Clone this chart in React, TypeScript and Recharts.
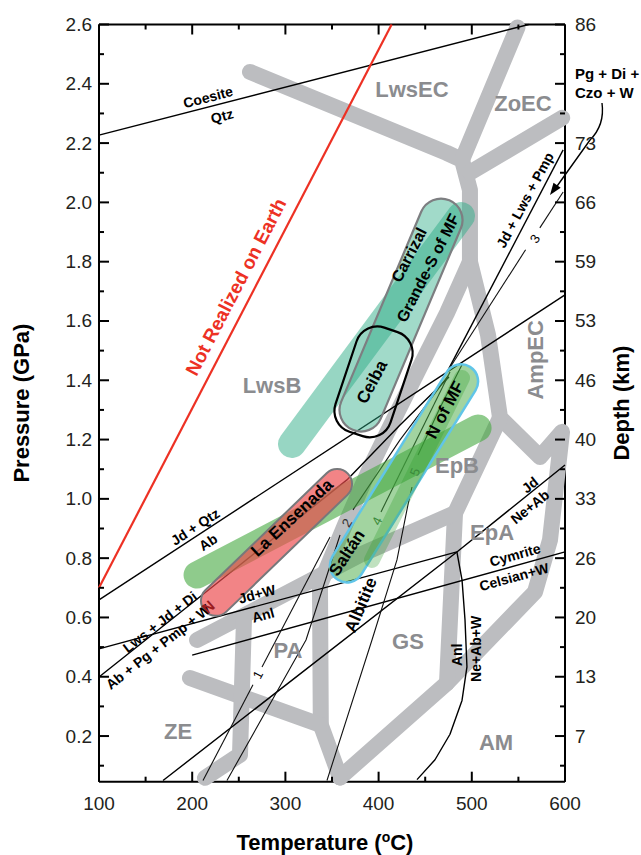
import React from 'react';
import { ComposedChart, XAxis, YAxis, Scatter, Label } from 'recharts';

type Pt = { t: number; p: number };
type Lbl = { t: number; p: number; text: string; angle?: number };

const FONT = '"Liberation Sans", Arial, Helvetica, sans-serif';

// ---------- axes ----------
const tempTicks = [100, 150, 200, 250, 300, 350, 400, 450, 500, 550, 600];
const pressTicks = [0.1, 0.2, 0.3, 0.4, 0.5, 0.6, 0.7, 0.8, 0.9, 1.0, 1.1, 1.2, 1.3, 1.4, 1.5, 1.6, 1.7, 1.8, 1.9, 2.0, 2.1, 2.2, 2.3, 2.4, 2.5, 2.6];
const depthTickP = [0.2, 0.4, 0.6, 0.8, 1.0, 1.2, 1.4, 1.6, 1.8, 2.0, 2.2, 2.4, 2.6];
const depthTickLabels = ['7', '13', '20', '26', '33', '40', '46', '53', '59', '66', '73', '', '86'];
const frameCorners: Pt[] = [{ t: 100, p: 0.046 }, { t: 600, p: 2.6 }];

// ---------- facies boundaries (thick grey) ----------
const fLwsECLwsB: Pt[] = [{ t: 262, p: 2.44 }, { t: 473, p: 2.167 }, { t: 489.5, p: 2.143 }, { t: 498, p: 2.042 }, { t: 498, p: 1.8 }];
const fLwsECZoEC: Pt[] = [{ t: 549, p: 2.59 }, { t: 489.5, p: 2.143 }];
const fZoECAmpEC: Pt[] = [{ t: 597, p: 2.285 }, { t: 498, p: 2.1 }];
const fAmpEC: Pt[] = [{ t: 498, p: 1.8 }, { t: 517.4, p: 1.553 }, { t: 530.3, p: 1.274 }, { t: 573.2, p: 1.141 }, { t: 596.8, p: 1.226 }, { t: 583.9, p: 0.861 }, { t: 567.8, p: 0.686 }, { t: 473.4, p: 0.379 }, { t: 358.6, p: 0.06 }];
const fEpAEpB: Pt[] = [{ t: 530.3, p: 1.274 }, { t: 482, p: 0.952 }, { t: 473.4, p: 0.379 }];
const fLwsBEpB: Pt[] = [{ t: 498, p: 1.8 }, { t: 473.4, p: 1.627 }, { t: 444.4, p: 1.445 }, { t: 409, p: 1.222 }, { t: 390.8, p: 1.104 }, { t: 363.9, p: 0.912 }, { t: 337.1, p: 0.71 }, { t: 338, p: 0.237 }, { t: 358.6, p: 0.06 }];
const fEpBBase: Pt[] = [{ t: 205.2, p: 0.524 }, { t: 380, p: 0.811 }, { t: 482, p: 0.952 }];
const fZEPA: Pt[] = [{ t: 197.6, p: 0.396 }, { t: 338, p: 0.237 }];
const fPAWest: Pt[] = [{ t: 255.6, p: 0.6 }, { t: 251.3, p: 0.137 }, { t: 213.7, p: 0.059 }];

// ---------- reaction lines ----------
const notRealized: Pt[] = [{ t: 100, p: 0.7 }, { t: 414, p: 2.6 }];
const coesiteQtz: Pt[] = [{ t: 100, p: 2.227 }, { t: 561, p: 2.6 }];
const jdQtzAb: Pt[] = [{ t: 100, p: 0.659 }, { t: 600, p: 1.688 }];
const lwsJdDi: Pt[] = [{ t: 100, p: 0.399 }, { t: 208, p: 0.669 }, { t: 366, p: 1.064 }, { t: 423, p: 1.249 }, { t: 475.5, p: 1.411 }];
const jdLwsPmp: Pt[] = [{ t: 598, p: 2.177 }, { t: 473, p: 1.425 }];
const rxn3a: Pt[] = [{ t: 598, p: 2.035 }, { t: 573, p: 1.914 }];
const rxn3b: Pt[] = [{ t: 557.7, p: 1.84 }, { t: 477, p: 1.445 }];
const rxn1a: Pt[] = [{ t: 211.6, p: 0.05 }, { t: 265.2, p: 0.373 }];
const rxn1b: Pt[] = [{ t: 274.9, p: 0.433 }, { t: 347.9, p: 0.871 }];
const rxn2a: Pt[] = [{ t: 237.3, p: 0.05 }, { t: 322.1, p: 0.524 }, { t: 358.6, p: 0.878 }];
const rxn2b: Pt[] = [{ t: 372.5, p: 0.963 }, { t: 423, p: 1.199 }, { t: 474.5, p: 1.415 }];
const rxn4: Pt[] = [{ t: 402.6, p: 0.956 }, { t: 476.6, p: 1.428 }];
const rxn5a: Pt[] = [{ t: 344.6, p: 0.05 }, { t: 392.9, p: 0.524 }, { t: 419.7, p: 0.794 }, { t: 431.5, p: 0.98 }, { t: 435.8, p: 1.04 }];
const rxn5b: Pt[] = [{ t: 442.3, p: 1.148 }, { t: 465.9, p: 1.307 }, { t: 489.5, p: 1.452 }];
const jdNeAb: Pt[] = [{ t: 168.7, p: 0.05 }, { t: 484, p: 0.821 }, { t: 600, p: 1.114 }];
const jdWAnl: Pt[] = [{ t: 100, p: 0.494 }, { t: 484, p: 0.821 }];
const anlNeAbW: Pt[] = [{ t: 484, p: 0.821 }, { t: 489.5, p: 0.727 }, { t: 492.7, p: 0.592 }, { t: 494.8, p: 0.433 }, { t: 489.5, p: 0.32 }, { t: 476.6, p: 0.206 }, { t: 460.5, p: 0.12 }, { t: 441.2, p: 0.053 }];
const cymrite: Pt[] = [{ t: 200, p: 0.473 }, { t: 600, p: 0.821 }];

// ---------- sample P-T fields ----------
const grandeBand: Pt[] = [{ t: 307.1, p: 1.185 }, { t: 488.4, p: 1.954 }];
const carrizalField: Pt[] = [{ t: 372.2, p: 1.233 }, { t: 475.9, p: 2.007 }];
const ceibaField: Pt[] = [{ t: 375.8, p: 1.219 }, { t: 413.3, p: 1.57 }];
const epbBand: Pt[] = [{ t: 205.2, p: 0.743 }, { t: 506.7, p: 1.239 }];
const ensenadaField: Pt[] = [{ t: 213.9, p: 0.621 }, { t: 367, p: 1.085 }];
const nofmfField: Pt[] = [{ t: 356.4, p: 0.727 }, { t: 498.1, p: 1.445 }];
const nofmfCore: Pt[] = [{ t: 392.9, p: 0.794 }, { t: 489.5, p: 1.408 }];

// ---------- labels ----------
const faciesLabels: Lbl[] = [
  { t: 435.8, p: 2.382, text: 'LwsEC' },
  { t: 554.9, p: 2.335, text: 'ZoEC' },
  { t: 285.6, p: 1.381, text: 'LwsB' },
  { t: 568.5, p: 1.469, text: 'AmpEC', angle: -90 },
  { t: 484.1, p: 1.111, text: 'EpB' },
  { t: 521.7, p: 0.885, text: 'EpA' },
  { t: 302.8, p: 0.49, text: 'PA' },
  { t: 431.5, p: 0.52, text: 'GS' },
  { t: 184.8, p: 0.217, text: 'ZE' },
  { t: 526, p: 0.177, text: 'AM' },
];
const fieldLabels: Lbl[] = [
  { t: 307.1, p: 0.936, text: 'La Ensenada', angle: -43 },
  { t: 392.9, p: 1.394, text: 'Ceiba', angle: -62 },
  { t: 471.2, p: 1.3, text: 'N of MF', angle: -62 },
  { t: 366.1, p: 0.818, text: 'Saltán', angle: -57 },
  { t: 381.1, p: 0.642, text: 'Albitite', angle: -67 },
];
const carrizalLabels: Lbl[] = [
  { t: 432.6, p: 1.823, text: 'Carrizal', angle: -63 },
  { t: 453, p: 1.779, text: 'Grande-S of MF', angle: -63 },
];
const reactionLabels: Lbl[] = [
  { t: 217, p: 2.355, text: 'Coesite', angle: -14.6 },
  { t: 232, p: 2.291, text: 'Qtz', angle: -14.6 },
  { t: 203.1, p: 0.906, text: 'Jd + Qtz', angle: -33.3 },
  { t: 217, p: 0.854, text: 'Ab', angle: -33.3 },
  { t: 165.5, p: 0.585, text: 'Lws + Jd + Di', angle: -38 },
  { t: 163.3, p: 0.501, text: 'Ab + Pg + Pmp + W', angle: -38 },
  { t: 269.5, p: 0.679, text: 'Jd+W', angle: -15 },
  { t: 276, p: 0.608, text: 'Anl', angle: -15 },
  { t: 557.1, p: 2.008, text: 'Jd + Lws + Pmp', angle: -62 },
  { t: 546.4, p: 0.811, text: 'Cymrite', angle: -15.5 },
  { t: 545.3, p: 0.737, text: 'Celsian+W', angle: -15.5 },
  { t: 562.4, p: 1.047, text: 'Jd', angle: -39 },
  { t: 562.4, p: 0.973, text: 'Ne+Ab', angle: -39 },
  { t: 484.1, p: 0.474, text: 'Anl', angle: -90 },
  { t: 504.5, p: 0.494, text: 'Ne+Ab+W', angle: -90 },
];
const numberLabelsDark: Lbl[] = [
  { t: 270.6, p: 0.407, text: '1', angle: -63 },
  { t: 567.8, p: 1.877, text: '3', angle: -57 },
];
const numberLabelsGrey: Lbl[] = [{ t: 366.1, p: 0.919, text: '2', angle: -60 }];
const numberLabelsGreen: Lbl[] = [
  { t: 398.3, p: 0.925, text: '4', angle: -64 },
  { t: 439, p: 1.091, text: '5', angle: -68 },
];
const redLabel: Lbl[] = [{ t: 247, p: 1.715, text: 'Not Realized on Earth', angle: -62.6 }];
const northLabel: Lbl[] = [{ t: 217, p: 0.636, text: 'N', angle: -42 }];
const arrowTip: Pt[] = [{ t: 583.9, p: 2.025 }];
const arrowText = ['Pg + Di +', 'Czo + W'];

// ---------- styles ----------
const GREY = '#bcbdc0';
const AXIS = { stroke: '#000', strokeWidth: 2 };
const TICK_TEXT = { fontFamily: FONT, fontSize: 19, fill: '#231f20' };

type XY = { x: number; y: number };
const toD = (pts: XY[]) => (pts || []).map((q, i) => `${i ? 'L' : 'M'}${q.x.toFixed(2)},${q.y.toFixed(2)}`).join(' ');

function bandPath(a: XY, b: XY, h: number, rc: number) {
  const dx = b.x - a.x, dy = b.y - a.y;
  const L = Math.hypot(dx, dy) || 1;
  const ux = dx / L, uy = dy / L, nx = -uy, ny = ux;
  const f = (x: number, y: number) => `${x.toFixed(2)},${y.toFixed(2)}`;
  const A = [a.x + nx * h, a.y + ny * h], B = [b.x + nx * h, b.y + ny * h];
  const C = [b.x - nx * h, b.y - ny * h], D = [a.x - nx * h, a.y - ny * h];
  return [
    `M ${f(A[0] + ux * rc, A[1] + uy * rc)}`,
    `L ${f(B[0] - ux * rc, B[1] - uy * rc)}`,
    `A ${rc} ${rc} 0 0 0 ${f(B[0] - nx * rc, B[1] - ny * rc)}`,
    `L ${f(C[0] + nx * rc, C[1] + ny * rc)}`,
    `A ${rc} ${rc} 0 0 0 ${f(C[0] - ux * rc, C[1] - uy * rc)}`,
    `L ${f(D[0] + ux * rc, D[1] + uy * rc)}`,
    `A ${rc} ${rc} 0 0 0 ${f(D[0] + nx * rc, D[1] + ny * rc)}`,
    `L ${f(A[0] - nx * rc, A[1] - ny * rc)}`,
    `A ${rc} ${rc} 0 0 0 ${f(A[0] + ux * rc, A[1] + uy * rc)}`,
    'Z',
  ].join(' ');
}

const noDot = () => <g />;
const polyLine = (stroke: string, width: number, extra: any = {}) => (props: any) => (
  <path d={toD(props.points)} fill="none" stroke={stroke} strokeWidth={width} strokeLinejoin="round" {...extra} />
);
const fieldShape = (h: number, rc: number, style: any) => (props: any) => {
  const pts = props.points || [];
  if (pts.length < 2) return <g />;
  return <path d={bandPath(pts[0], pts[1], h, rc)} {...style} />;
};
const textShape = (style: any) => (props: any) => {
  const d = props.payload || props;
  const { cx, cy } = props;
  if (cx == null || cy == null) return <g />;
  return (
    <text
      x={cx}
      y={cy}
      transform={d.angle ? `rotate(${d.angle} ${cx} ${cy})` : undefined}
      textAnchor="middle"
      dominantBaseline="central"
      fontFamily={FONT}
      {...style}
    >
      {d.text}
    </text>
  );
};
const arrowShape = (props: any) => {
  const { cx, cy } = props;
  if (cx == null) return <g />;
  return (
    <g>
      <path d={`M ${cx + 52} ${cy - 92} Q ${cx + 55} ${cy - 70} ${cx + 40} ${cy - 55} L ${cx + 5} ${cy - 6}`} fill="none" stroke="#000" strokeWidth={1.4} />
      <path d={`M ${cx} ${cy} L ${cx + 10.7} ${cy - 7.1} L ${cx + 3.5} ${cy - 12.3} Z`} fill="#000" />
      <text x={cx + 25} y={cy - 121} dominantBaseline="central" fontFamily={FONT} fontSize={15} fontWeight="bold" fill="#000">{arrowText[0]}</text>
      <text x={cx + 25} y={cy - 102} dominantBaseline="central" fontFamily={FONT} fontSize={15} fontWeight="bold" fill="#000">{arrowText[1]}</text>
    </g>
  );
};

// ---------- ticks ----------
const isMajorP = (v: number) => Math.round(v * 10) % 2 === 0;
const LeftTick = (props: any) => {
  const { x, y, payload } = props;
  const v = payload.value;
  const major = isMajorP(v);
  return (
    <g>
      <line x1={x} y1={y} x2={x + (major ? 10 : 5)} y2={y} stroke="#000" strokeWidth={2} />
      {major && <text x={x - 7} y={y} textAnchor="end" dominantBaseline="central" {...TICK_TEXT}>{v.toFixed(1)}</text>}
    </g>
  );
};
const RightTick = (props: any) => {
  const { x, y, payload } = props;
  const v = payload.value;
  const major = isMajorP(v);
  const idx = depthTickP.findIndex((q) => Math.abs(q - v) < 1e-6);
  return (
    <g>
      <line x1={x} y1={y} x2={x - (major ? 10 : 5)} y2={y} stroke="#000" strokeWidth={2} />
      {major && idx >= 0 && <text x={x + 10} y={y} textAnchor="start" dominantBaseline="central" {...TICK_TEXT}>{depthTickLabels[idx]}</text>}
    </g>
  );
};
const BottomTick = (props: any) => {
  const { x, y, payload } = props;
  const v = payload.value;
  const major = v % 100 === 0;
  return (
    <g>
      <line x1={x} y1={y} x2={x} y2={y - (major ? 10 : 5)} stroke="#000" strokeWidth={2} />
      {major && <text x={x} y={y + 22} textAnchor="middle" dominantBaseline="central" {...TICK_TEXT}>{v}</text>}
    </g>
  );
};
const TopTick = (props: any) => {
  const { x, y, payload } = props;
  const v = payload.value;
  const major = v % 100 === 0;
  return <line x1={x} y1={y} x2={x} y2={y + (major ? 10 : 5)} stroke="#000" strokeWidth={2} />;
};

const TITLE = { fontFamily: FONT, fontSize: 22, fontWeight: 'bold' as const, fill: '#000' };
const BottomTitle = (props: any) => {
  const vb = props.viewBox || {};
  return (
    <text x={vb.x + vb.width / 2 - 7} y={vb.y + 68} textAnchor="middle" {...TITLE}>
      <tspan>Temperature (</tspan>
      <tspan dy={-8} fontSize={14}>o</tspan>
      <tspan dy={8}>C)</tspan>
    </text>
  );
};
const LeftTitle = (props: any) => {
  const vb = props.viewBox || {};
  const x = vb.x + vb.width - 77, y = vb.y + vb.height / 2;
  return <text x={x} y={y} transform={`rotate(-90 ${x} ${y})`} textAnchor="middle" dominantBaseline="central" {...TITLE}>Pressure (GPa)</text>;
};
const RightTitle = (props: any) => {
  const vb = props.viewBox || {};
  const x = vb.x + 57, y = vb.y + vb.height / 2;
  return <text x={x} y={y} transform={`rotate(-90 ${x} ${y})`} textAnchor="middle" dominantBaseline="central" {...TITLE}>Depth (km)</text>;
};

const greyLines = [fLwsECLwsB, fLwsECZoEC, fZoECAmpEC, fAmpEC, fEpAEpB, fLwsBEpB, fEpBBase, fZEPA, fPAWest];
const mainLines = [coesiteQtz, jdQtzAb, lwsJdDi, jdLwsPmp, jdNeAb, jdWAnl, anlNeAbW, cymrite];
const numberedLines = [rxn1a, rxn1b, rxn2a, rxn2b, rxn3a, rxn3b, rxn4, rxn5a, rxn5b];

const S = { xAxisId: 'b', yAxisId: 'l', isAnimationActive: false } as const;

export default function App() {
  return (
    <div style={{ position: 'absolute', left: 0, top: 0, width: 641, height: 855, background: '#fff' }}>
      <ComposedChart width={641} height={855} margin={{ top: 23.5, right: 75, bottom: 72.3, left: 98 }}>
        <XAxis xAxisId="b" type="number" dataKey="t" orientation="bottom" domain={[100, 600]} ticks={tempTicks} interval={0}
          height={1} tickSize={0} tickMargin={0} tickLine={false} axisLine={AXIS} tick={BottomTick}>
          <Label content={BottomTitle} />
        </XAxis>
        <XAxis xAxisId="t" type="number" dataKey="t" orientation="top" domain={[100, 600]} ticks={tempTicks} interval={0}
          height={1} tickSize={0} tickMargin={0} tickLine={false} axisLine={AXIS} tick={TopTick} />
        <YAxis yAxisId="l" type="number" dataKey="p" orientation="left" domain={[0.046, 2.6]} ticks={pressTicks} interval={0}
          width={1} tickSize={0} tickMargin={0} tickLine={false} axisLine={AXIS} tick={LeftTick}>
          <Label content={LeftTitle} />
        </YAxis>
        <YAxis yAxisId="r" type="number" dataKey="p" orientation="right" domain={[0.046, 2.6]} ticks={pressTicks} interval={0}
          width={1} tickSize={0} tickMargin={0} tickLine={false} axisLine={AXIS} tick={RightTick}>
          <Label content={RightTitle} />
        </YAxis>

        <Scatter data={frameCorners} xAxisId="t" yAxisId="r" isAnimationActive={false} shape={noDot} />

        {greyLines.map((d, i) => (
          <Scatter key={'g' + i} data={d} {...S} shape={noDot} line={polyLine(GREY, 16, { strokeLinecap: 'round' })} />
        ))}
        {mainLines.map((d, i) => (
          <Scatter key={'m' + i} data={d} {...S} shape={noDot} line={polyLine('#000', 1.4)} />
        ))}
        {numberedLines.map((d, i) => (
          <Scatter key={'n' + i} data={d} {...S} shape={noDot} line={polyLine('#111', 1.1)} />
        ))}
        <Scatter data={grandeBand} {...S} shape={noDot} line={polyLine('#2fae88', 28, { strokeLinecap: 'round', strokeOpacity: 0.5 })} />
        <Scatter data={carrizalField} {...S} shape={noDot} line={fieldShape(21.5, 21.5, { fill: '#2fae88', fillOpacity: 0.45, stroke: '#7d7e81', strokeWidth: 2.2 })} />
        <Scatter data={epbBand} {...S} shape={noDot} line={polyLine('#45a83f', 27, { strokeLinecap: 'round', strokeOpacity: 0.6 })} />
        <Scatter data={ensenadaField} {...S} shape={noDot} line={fieldShape(15, 15, { fill: '#ec4a4c', fillOpacity: 0.68, stroke: '#77787b', strokeWidth: 2 })} />
        <Scatter data={nofmfField} {...S} shape={noDot} line={fieldShape(17, 17, { fill: '#46aa42', fillOpacity: 0.5, stroke: '#60c5e8', strokeWidth: 2.5 })} />
        <Scatter data={nofmfCore} {...S} shape={noDot} line={polyLine('#2f9a2c', 16, { strokeLinecap: 'round', strokeOpacity: 0.3 })} />
        <Scatter data={ceibaField} {...S} shape={noDot} line={fieldShape(29, 22, { fill: 'none', stroke: '#000', strokeWidth: 2.2 })} />
        <Scatter data={notRealized} {...S} shape={noDot} line={polyLine('#ed3124', 2.2)} />

        <Scatter data={faciesLabels} {...S} shape={textShape({ fontSize: 22, fontWeight: 'bold', fill: '#8b8c8f' })} />
        <Scatter data={fieldLabels} {...S} shape={textShape({ fontSize: 17, fontWeight: 'bold', fill: '#000' })} />
        <Scatter data={carrizalLabels} {...S} shape={textShape({ fontSize: 16, fontWeight: 'bold', fill: '#000' })} />
        <Scatter data={reactionLabels} {...S} shape={textShape({ fontSize: 14, fontWeight: 'bold', fill: '#000' })} />
        <Scatter data={numberLabelsDark} {...S} shape={textShape({ fontSize: 13, fill: '#000' })} />
        <Scatter data={numberLabelsGrey} {...S} shape={textShape({ fontSize: 13, fill: '#333' })} />
        <Scatter data={numberLabelsGreen} {...S} shape={textShape({ fontSize: 13, fill: '#3b8a3b' })} />
        <Scatter data={redLabel} {...S} shape={textShape({ fontSize: 19, fontWeight: 'bold', fill: '#ed3124' })} />
        <Scatter data={northLabel} {...S} shape={textShape({ fontSize: 15, fontWeight: 'bold', fill: '#9b1b1e' })} />
        <Scatter data={arrowTip} {...S} shape={arrowShape} />
      </ComposedChart>
    </div>
  );
}
